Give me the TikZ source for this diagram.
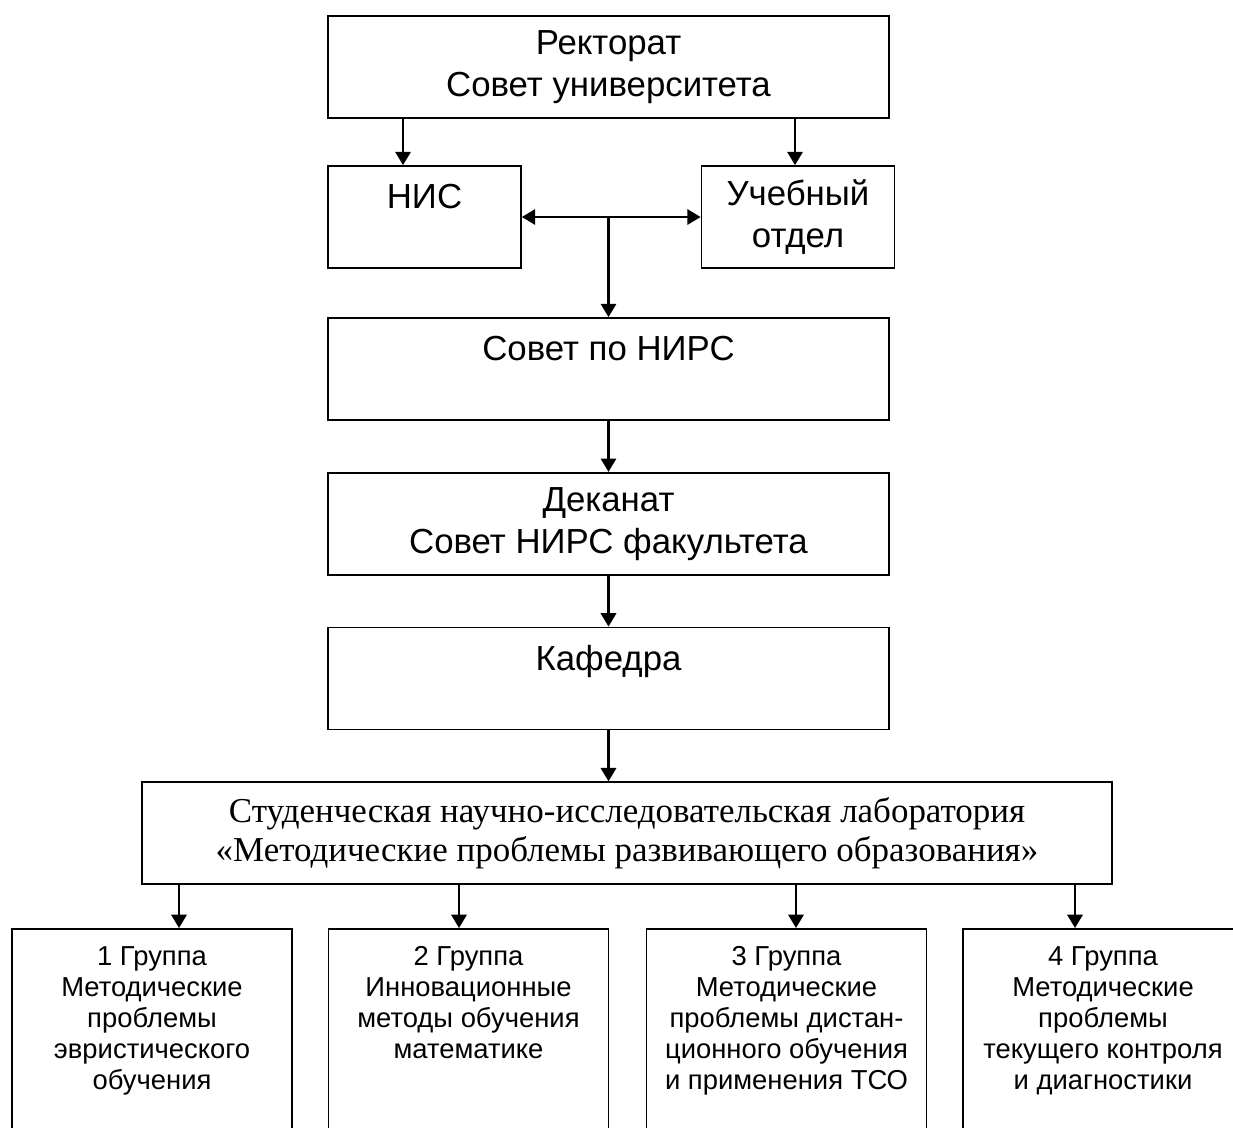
\documentclass[tikz,border=0pt]{standalone}
\usepackage{fontspec}
\setmainfont{Liberation Sans}
\newfontfamily\labfont{Liberation Serif}
\usetikzlibrary{arrows.meta,positioning}

\begin{document}
\begin{tikzpicture}[x=0.02cm, y=-0.02cm, node distance=1.02cm]
	\tikzstyle{box}
	  =[draw, line width=1pt, rectangle, align=center,
	  minimum width=11.22cm, minimum height=2.04cm,
	  font=\fontsize{19.8}{23.8}\selectfont]
	\tikzstyle{small}=[box, minimum width=3.86cm]
	\tikzstyle{group}
	  =[draw, line width=1pt, rectangle, anchor=north,
	  minimum width=5.6cm, minimum height=5cm]
	\tikzstyle{grouptext}
	  =[anchor=north, align=center, yshift=-7pt,
	  font=\fontsize{15.6}{17.6}\selectfont]
	\tikzstyle{arr}=[line width=1.4pt, -{Triangle[length=7.6pt,width=8.7pt]}]

	\useasboundingbox (0,0) rectangle (1233,1127);

	% upper levels
	\node[box] (rector) at (608.5,67) {Ректорат\\Совет университета};
	\node[small] (nis) at (424.5,217) {НИС\\ \mbox{}};
	\node[small] (ucheb) at (798,217) {Учебный\\отдел};
	\node[box] (sovet) at (608.5,369) {Совет по НИРС\\ \mbox{}};
	\node[box] (dekanat)
	  [below=of sovet] {Деканат\\Совет НИРС факультета};
	\node[box] (kafedra)
	  [below=of dekanat] {Кафедра\\ \mbox{}};
	\node[box] (lab)
	  [below=of kafedra, xshift=0.37cm, minimum width=19.4cm,
	  font=\labfont\fontsize{19.9}{22.1}\selectfont]
	  {Студенческая научно-исследовательская лаборатория\\
	  «Методические проблемы развивающего образования»};
	\coordinate (fork) at (sovet.north |- nis.east);

	% groups
	\node[group, label={[grouptext]north:{1 Группа\\Методические\\проблемы\\эвристического\\обучения}}]
	  (g1) at (152,928) {};
	\node[group, label={[grouptext]north:{2 Группа\\Инновационные\\методы обучения\\математике}}]
	  (g2) at (468.5,928) {};
	\node[group, label={[grouptext]north:{3 Группа\\Методические\\проблемы дистан-\\ционного обучения\\и применения ТСО}}]
	  (g3) at (786.5,928) {};
	\node[group, label={[grouptext]north:{4 Группа\\Методические\\проблемы\\текущего контроля\\и диагностики}}]
	  (g4) at (1103,928) {};

	% arrows
	\draw[arr] (rector.south -| 403,0) -- (nis.north -| 403,0);
	\draw[arr] (rector.south -| 795,0) -- (ucheb.north -| 795,0);
	\draw[arr] (fork) -- (nis.east);
	\draw[arr] (fork) -- (ucheb.west);
	\draw[arr] (fork) -- (sovet.north);
	\draw[arr] (sovet.south) -- (dekanat.north);
	\draw[arr] (dekanat.south) -- (kafedra.north);
	\draw[arr] (kafedra.south) -- (kafedra.south |- lab.north);
	\draw[arr] (lab.south -| 179,0) -- (g1.north -| 179,0);
	\draw[arr] (lab.south -| 459,0) -- (g2.north -| 459,0);
	\draw[arr] (lab.south -| 796,0) -- (g3.north -| 796,0);
	\draw[arr] (lab.south -| 1075,0) -- (g4.north -| 1075,0);
\end{tikzpicture}
\end{document}
